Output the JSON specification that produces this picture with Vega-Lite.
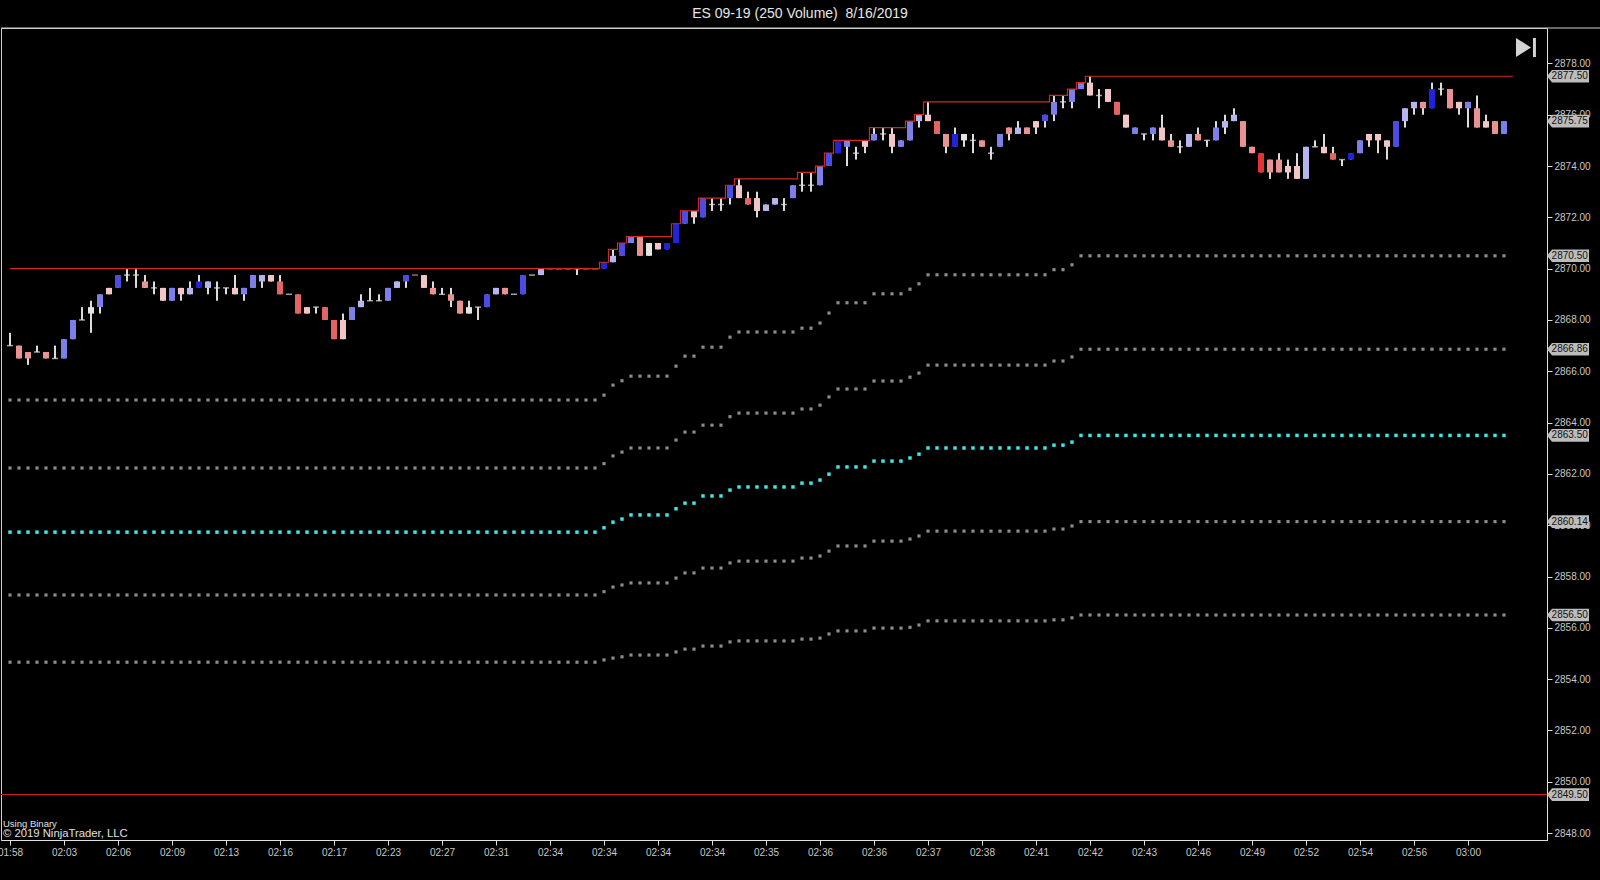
{
  "$schema": "https://vega.github.io/schema/vega-lite/v6.json",
  "width": 1546,
  "height": 812,
  "autosize": {"type": "none"},
  "padding": {"left": 1, "top": 28, "right": 53, "bottom": 40},
  "background": "#000000",
  "title": {
    "text": "ES 09-19 (250 Volume) \u00a08/16/2019",
    "color": "#e6e6e6",
    "fontSize": 14,
    "fontWeight": "normal",
    "font": "Liberation Sans",
    "frame": "bounds",
    "anchor": "middle",
    "offset": 7
  },
  "config": {
    "font": "Liberation Sans",
    "view": {"stroke": "#cfcfcf", "strokeWidth": 1}
  },
  "data": {
    "values": [
      {"i":0,"open":2867,"high":2867.5,"low":2867,"close":2867,"tone":"W","lvl":2870,"mid":2859.73,"up2":2864.88,"up1":2862.23,"dn1":2857.28,"dn2":2854.66},
      {"i":1,"open":2867,"high":2867,"low":2866.5,"close":2866.5,"tone":"R1","lvl":2870,"mid":2859.73,"up2":2864.88,"up1":2862.23,"dn1":2857.28,"dn2":2854.66},
      {"i":2,"open":2866.75,"high":2866.75,"low":2866.25,"close":2866.5,"tone":"R1","lvl":2870,"mid":2859.73,"up2":2864.88,"up1":2862.23,"dn1":2857.28,"dn2":2854.66},
      {"i":3,"open":2866.75,"high":2867,"low":2866.75,"close":2866.75,"tone":"W","lvl":2870,"mid":2859.73,"up2":2864.88,"up1":2862.23,"dn1":2857.28,"dn2":2854.66},
      {"i":4,"open":2866.75,"high":2866.75,"low":2866.5,"close":2866.5,"tone":"R1","lvl":2870,"mid":2859.73,"up2":2864.88,"up1":2862.23,"dn1":2857.28,"dn2":2854.66},
      {"i":5,"open":2866.5,"high":2867,"low":2866.5,"close":2866.5,"tone":"W","lvl":2870,"mid":2859.73,"up2":2864.88,"up1":2862.23,"dn1":2857.28,"dn2":2854.66},
      {"i":6,"open":2866.5,"high":2867.25,"low":2866.5,"close":2867.25,"tone":"B1","lvl":2870,"mid":2859.73,"up2":2864.88,"up1":2862.23,"dn1":2857.28,"dn2":2854.66},
      {"i":7,"open":2867.25,"high":2868,"low":2867.25,"close":2868,"tone":"B1","lvl":2870,"mid":2859.73,"up2":2864.88,"up1":2862.23,"dn1":2857.28,"dn2":2854.66},
      {"i":8,"open":2868,"high":2868.5,"low":2868,"close":2868,"tone":"W","lvl":2870,"mid":2859.73,"up2":2864.88,"up1":2862.23,"dn1":2857.28,"dn2":2854.66},
      {"i":9,"open":2868.25,"high":2868.75,"low":2867.5,"close":2868.5,"tone":"W","lvl":2870,"mid":2859.73,"up2":2864.88,"up1":2862.23,"dn1":2857.28,"dn2":2854.66},
      {"i":10,"open":2868.5,"high":2869,"low":2868.25,"close":2869,"tone":"B1","lvl":2870,"mid":2859.73,"up2":2864.88,"up1":2862.23,"dn1":2857.28,"dn2":2854.66},
      {"i":11,"open":2869.25,"high":2869.25,"low":2869,"close":2869,"tone":"R0","lvl":2870,"mid":2859.73,"up2":2864.88,"up1":2862.23,"dn1":2857.28,"dn2":2854.66},
      {"i":12,"open":2869.25,"high":2869.75,"low":2869.25,"close":2869.75,"tone":"B2","lvl":2870,"mid":2859.73,"up2":2864.88,"up1":2862.23,"dn1":2857.28,"dn2":2854.66},
      {"i":13,"open":2869.75,"high":2870,"low":2869.5,"close":2869.75,"tone":"W","lvl":2870,"mid":2859.73,"up2":2864.88,"up1":2862.23,"dn1":2857.28,"dn2":2854.66},
      {"i":14,"open":2869.75,"high":2870,"low":2869.25,"close":2869.75,"tone":"W","lvl":2870,"mid":2859.73,"up2":2864.88,"up1":2862.23,"dn1":2857.28,"dn2":2854.66},
      {"i":15,"open":2869.5,"high":2869.75,"low":2869.25,"close":2869.25,"tone":"R1","lvl":2870,"mid":2859.73,"up2":2864.88,"up1":2862.23,"dn1":2857.28,"dn2":2854.66},
      {"i":16,"open":2869.25,"high":2869.5,"low":2869,"close":2869.25,"tone":"W","lvl":2870,"mid":2859.73,"up2":2864.88,"up1":2862.23,"dn1":2857.28,"dn2":2854.66},
      {"i":17,"open":2869.25,"high":2869.25,"low":2868.75,"close":2868.75,"tone":"R0","lvl":2870,"mid":2859.73,"up2":2864.88,"up1":2862.23,"dn1":2857.28,"dn2":2854.66},
      {"i":18,"open":2868.75,"high":2869.25,"low":2868.75,"close":2869.25,"tone":"B1","lvl":2870,"mid":2859.73,"up2":2864.88,"up1":2862.23,"dn1":2857.28,"dn2":2854.66},
      {"i":19,"open":2869.25,"high":2869.25,"low":2868.75,"close":2869,"tone":"R0","lvl":2870,"mid":2859.73,"up2":2864.88,"up1":2862.23,"dn1":2857.28,"dn2":2854.66},
      {"i":20,"open":2869,"high":2869.5,"low":2869,"close":2869.25,"tone":"B0","lvl":2870,"mid":2859.73,"up2":2864.88,"up1":2862.23,"dn1":2857.28,"dn2":2854.66},
      {"i":21,"open":2869.25,"high":2869.75,"low":2869.25,"close":2869.5,"tone":"B3","lvl":2870,"mid":2859.73,"up2":2864.88,"up1":2862.23,"dn1":2857.28,"dn2":2854.66},
      {"i":22,"open":2869.25,"high":2869.5,"low":2869,"close":2869.5,"tone":"B0","lvl":2870,"mid":2859.73,"up2":2864.88,"up1":2862.23,"dn1":2857.28,"dn2":2854.66},
      {"i":23,"open":2869.25,"high":2869.5,"low":2868.75,"close":2869.25,"tone":"W","lvl":2870,"mid":2859.73,"up2":2864.88,"up1":2862.23,"dn1":2857.28,"dn2":2854.66},
      {"i":24,"open":2869.25,"high":2869.25,"low":2869,"close":2869.25,"tone":"W","lvl":2870,"mid":2859.73,"up2":2864.88,"up1":2862.23,"dn1":2857.28,"dn2":2854.66},
      {"i":25,"open":2869.25,"high":2869.75,"low":2869,"close":2869,"tone":"R0","lvl":2870,"mid":2859.73,"up2":2864.88,"up1":2862.23,"dn1":2857.28,"dn2":2854.66},
      {"i":26,"open":2869,"high":2869.25,"low":2868.75,"close":2869.25,"tone":"B1","lvl":2870,"mid":2859.73,"up2":2864.88,"up1":2862.23,"dn1":2857.28,"dn2":2854.66},
      {"i":27,"open":2869.25,"high":2869.75,"low":2869.25,"close":2869.75,"tone":"B1","lvl":2870,"mid":2859.73,"up2":2864.88,"up1":2862.23,"dn1":2857.28,"dn2":2854.66},
      {"i":28,"open":2869.5,"high":2869.75,"low":2869.25,"close":2869.75,"tone":"B0","lvl":2870,"mid":2859.73,"up2":2864.88,"up1":2862.23,"dn1":2857.28,"dn2":2854.66},
      {"i":29,"open":2869.75,"high":2869.75,"low":2869.5,"close":2869.5,"tone":"R0","lvl":2870,"mid":2859.73,"up2":2864.88,"up1":2862.23,"dn1":2857.28,"dn2":2854.66},
      {"i":30,"open":2869.5,"high":2869.75,"low":2869,"close":2869,"tone":"R2","lvl":2870,"mid":2859.73,"up2":2864.88,"up1":2862.23,"dn1":2857.28,"dn2":2854.66},
      {"i":31,"open":2869,"high":2869,"low":2869,"close":2869,"tone":"W","lvl":2870,"mid":2859.73,"up2":2864.88,"up1":2862.23,"dn1":2857.28,"dn2":2854.66},
      {"i":32,"open":2869,"high":2869,"low":2868.25,"close":2868.25,"tone":"R2","lvl":2870,"mid":2859.73,"up2":2864.88,"up1":2862.23,"dn1":2857.28,"dn2":2854.66},
      {"i":33,"open":2868.5,"high":2868.5,"low":2868.25,"close":2868.25,"tone":"R0","lvl":2870,"mid":2859.73,"up2":2864.88,"up1":2862.23,"dn1":2857.28,"dn2":2854.66},
      {"i":34,"open":2868.5,"high":2868.5,"low":2868.25,"close":2868.5,"tone":"W","lvl":2870,"mid":2859.73,"up2":2864.88,"up1":2862.23,"dn1":2857.28,"dn2":2854.66},
      {"i":35,"open":2868.5,"high":2868.5,"low":2868,"close":2868,"tone":"R2","lvl":2870,"mid":2859.73,"up2":2864.88,"up1":2862.23,"dn1":2857.28,"dn2":2854.66},
      {"i":36,"open":2868,"high":2868,"low":2867.25,"close":2867.25,"tone":"R2","lvl":2870,"mid":2859.73,"up2":2864.88,"up1":2862.23,"dn1":2857.28,"dn2":2854.66},
      {"i":37,"open":2868,"high":2868.25,"low":2867.25,"close":2867.25,"tone":"R0","lvl":2870,"mid":2859.73,"up2":2864.88,"up1":2862.23,"dn1":2857.28,"dn2":2854.66},
      {"i":38,"open":2868,"high":2868.5,"low":2868,"close":2868.5,"tone":"B1","lvl":2870,"mid":2859.73,"up2":2864.88,"up1":2862.23,"dn1":2857.28,"dn2":2854.66},
      {"i":39,"open":2868.5,"high":2869,"low":2868.5,"close":2868.75,"tone":"B0","lvl":2870,"mid":2859.73,"up2":2864.88,"up1":2862.23,"dn1":2857.28,"dn2":2854.66},
      {"i":40,"open":2868.75,"high":2869.25,"low":2868.75,"close":2868.75,"tone":"W","lvl":2870,"mid":2859.73,"up2":2864.88,"up1":2862.23,"dn1":2857.28,"dn2":2854.66},
      {"i":41,"open":2868.75,"high":2869,"low":2868.75,"close":2868.75,"tone":"W","lvl":2870,"mid":2859.73,"up2":2864.88,"up1":2862.23,"dn1":2857.28,"dn2":2854.66},
      {"i":42,"open":2868.75,"high":2869.25,"low":2868.75,"close":2869.25,"tone":"B1","lvl":2870,"mid":2859.73,"up2":2864.88,"up1":2862.23,"dn1":2857.28,"dn2":2854.66},
      {"i":43,"open":2869.25,"high":2869.5,"low":2869.25,"close":2869.5,"tone":"B0","lvl":2870,"mid":2859.73,"up2":2864.88,"up1":2862.23,"dn1":2857.28,"dn2":2854.66},
      {"i":44,"open":2869.5,"high":2869.75,"low":2869.25,"close":2869.75,"tone":"B2","lvl":2870,"mid":2859.73,"up2":2864.88,"up1":2862.23,"dn1":2857.28,"dn2":2854.66},
      {"i":45,"open":2869.75,"high":2869.75,"low":2869.75,"close":2869.75,"tone":"R1","lvl":2870,"mid":2859.73,"up2":2864.88,"up1":2862.23,"dn1":2857.28,"dn2":2854.66},
      {"i":46,"open":2869.75,"high":2869.75,"low":2869.25,"close":2869.25,"tone":"R0","lvl":2870,"mid":2859.73,"up2":2864.88,"up1":2862.23,"dn1":2857.28,"dn2":2854.66},
      {"i":47,"open":2869.25,"high":2869.5,"low":2869,"close":2869,"tone":"R1","lvl":2870,"mid":2859.73,"up2":2864.88,"up1":2862.23,"dn1":2857.28,"dn2":2854.66},
      {"i":48,"open":2869,"high":2869.25,"low":2869,"close":2869,"tone":"W","lvl":2870,"mid":2859.73,"up2":2864.88,"up1":2862.23,"dn1":2857.28,"dn2":2854.66},
      {"i":49,"open":2869,"high":2869.25,"low":2868.5,"close":2868.75,"tone":"R1","lvl":2870,"mid":2859.73,"up2":2864.88,"up1":2862.23,"dn1":2857.28,"dn2":2854.66},
      {"i":50,"open":2868.75,"high":2868.75,"low":2868.25,"close":2868.25,"tone":"R1","lvl":2870,"mid":2859.73,"up2":2864.88,"up1":2862.23,"dn1":2857.28,"dn2":2854.66},
      {"i":51,"open":2868.25,"high":2868.75,"low":2868.25,"close":2868.5,"tone":"W","lvl":2870,"mid":2859.73,"up2":2864.88,"up1":2862.23,"dn1":2857.28,"dn2":2854.66},
      {"i":52,"open":2868.5,"high":2868.5,"low":2868,"close":2868.5,"tone":"W","lvl":2870,"mid":2859.73,"up2":2864.88,"up1":2862.23,"dn1":2857.28,"dn2":2854.66},
      {"i":53,"open":2868.5,"high":2869,"low":2868.5,"close":2869,"tone":"B2","lvl":2870,"mid":2859.73,"up2":2864.88,"up1":2862.23,"dn1":2857.28,"dn2":2854.66},
      {"i":54,"open":2869,"high":2869.25,"low":2869,"close":2869.25,"tone":"B0","lvl":2870,"mid":2859.73,"up2":2864.88,"up1":2862.23,"dn1":2857.28,"dn2":2854.66},
      {"i":55,"open":2869.25,"high":2869.25,"low":2869,"close":2869,"tone":"R1","lvl":2870,"mid":2859.73,"up2":2864.88,"up1":2862.23,"dn1":2857.28,"dn2":2854.66},
      {"i":56,"open":2869,"high":2869,"low":2869,"close":2869,"tone":"W","lvl":2870,"mid":2859.73,"up2":2864.88,"up1":2862.23,"dn1":2857.28,"dn2":2854.66},
      {"i":57,"open":2869,"high":2869.75,"low":2869,"close":2869.75,"tone":"B2","lvl":2870,"mid":2859.73,"up2":2864.88,"up1":2862.23,"dn1":2857.28,"dn2":2854.66},
      {"i":58,"open":2869.75,"high":2869.75,"low":2869.75,"close":2869.75,"tone":"W","lvl":2870,"mid":2859.73,"up2":2864.88,"up1":2862.23,"dn1":2857.28,"dn2":2854.66},
      {"i":59,"open":2869.75,"high":2870,"low":2869.75,"close":2870,"tone":"B0","lvl":2870,"mid":2859.73,"up2":2864.88,"up1":2862.23,"dn1":2857.28,"dn2":2854.66},
      {"i":60,"open":2870,"high":2870,"low":2870,"close":2870,"tone":"W","lvl":2870,"mid":2859.73,"up2":2864.88,"up1":2862.23,"dn1":2857.28,"dn2":2854.66},
      {"i":61,"open":2870,"high":2870,"low":2870,"close":2870,"tone":"W","lvl":2870,"mid":2859.73,"up2":2864.88,"up1":2862.23,"dn1":2857.28,"dn2":2854.66},
      {"i":62,"open":2870,"high":2870,"low":2870,"close":2870,"tone":"W","lvl":2870,"mid":2859.73,"up2":2864.88,"up1":2862.23,"dn1":2857.28,"dn2":2854.66},
      {"i":63,"open":2870,"high":2870,"low":2869.75,"close":2870,"tone":"W","lvl":2870,"mid":2859.73,"up2":2864.88,"up1":2862.23,"dn1":2857.28,"dn2":2854.66},
      {"i":64,"open":2870,"high":2870,"low":2870,"close":2870,"tone":"W","lvl":2870,"mid":2859.73,"up2":2864.88,"up1":2862.23,"dn1":2857.28,"dn2":2854.66},
      {"i":65,"open":2870,"high":2870,"low":2870,"close":2870,"tone":"W","lvl":2870,"mid":2859.73,"up2":2864.88,"up1":2862.23,"dn1":2857.28,"dn2":2854.66},
      {"i":66,"open":2870,"high":2870.25,"low":2870,"close":2870.25,"tone":"B3","lvl":2870.25,"mid":2859.9,"up2":2865.07,"up1":2862.4,"dn1":2857.41,"dn2":2854.75},
      {"i":67,"open":2870.25,"high":2870.75,"low":2870.25,"close":2870.5,"tone":"B0","lvl":2870.75,"mid":2860.12,"up2":2865.46,"up1":2862.7,"dn1":2857.59,"dn2":2854.82},
      {"i":68,"open":2870.5,"high":2871,"low":2870.5,"close":2871,"tone":"B2","lvl":2871,"mid":2860.24,"up2":2865.63,"up1":2862.85,"dn1":2857.67,"dn2":2854.87},
      {"i":69,"open":2871,"high":2871.25,"low":2871,"close":2871.25,"tone":"B1","lvl":2871.25,"mid":2860.4,"up2":2865.81,"up1":2863.01,"dn1":2857.75,"dn2":2854.94},
      {"i":70,"open":2871.25,"high":2871.25,"low":2870.5,"close":2870.5,"tone":"R1","lvl":2871.25,"mid":2860.4,"up2":2865.81,"up1":2863.01,"dn1":2857.75,"dn2":2854.94},
      {"i":71,"open":2870.5,"high":2871,"low":2870.5,"close":2871,"tone":"W","lvl":2871.25,"mid":2860.4,"up2":2865.81,"up1":2863.01,"dn1":2857.75,"dn2":2854.94},
      {"i":72,"open":2871,"high":2871,"low":2870.75,"close":2870.75,"tone":"R0","lvl":2871.25,"mid":2860.4,"up2":2865.81,"up1":2863.01,"dn1":2857.75,"dn2":2854.94},
      {"i":73,"open":2870.75,"high":2871,"low":2870.75,"close":2871,"tone":"B3","lvl":2871.25,"mid":2860.4,"up2":2865.81,"up1":2863.01,"dn1":2857.75,"dn2":2854.94},
      {"i":74,"open":2871,"high":2871.75,"low":2871,"close":2871.75,"tone":"B3","lvl":2871.75,"mid":2860.64,"up2":2866.2,"up1":2863.32,"dn1":2857.94,"dn2":2855.06},
      {"i":75,"open":2871.75,"high":2872.25,"low":2871.75,"close":2872.25,"tone":"B2","lvl":2872.25,"mid":2860.86,"up2":2866.59,"up1":2863.63,"dn1":2858.14,"dn2":2855.17},
      {"i":76,"open":2872.25,"high":2872.25,"low":2871.75,"close":2872,"tone":"R0","lvl":2872.25,"mid":2860.86,"up2":2866.59,"up1":2863.63,"dn1":2858.14,"dn2":2855.17},
      {"i":77,"open":2872,"high":2872.75,"low":2872,"close":2872.75,"tone":"B2","lvl":2872.75,"mid":2861.14,"up2":2866.94,"up1":2863.9,"dn1":2858.33,"dn2":2855.29},
      {"i":78,"open":2872.5,"high":2872.75,"low":2872.25,"close":2872.5,"tone":"W","lvl":2872.75,"mid":2861.14,"up2":2866.94,"up1":2863.9,"dn1":2858.33,"dn2":2855.29},
      {"i":79,"open":2872.5,"high":2872.75,"low":2872.25,"close":2872.5,"tone":"W","lvl":2872.75,"mid":2861.14,"up2":2866.94,"up1":2863.9,"dn1":2858.33,"dn2":2855.29},
      {"i":80,"open":2872.75,"high":2873.25,"low":2872.5,"close":2873.25,"tone":"B2","lvl":2873.25,"mid":2861.37,"up2":2867.33,"up1":2864.23,"dn1":2858.53,"dn2":2855.45},
      {"i":81,"open":2873.25,"high":2873.5,"low":2872.75,"close":2872.75,"tone":"R0","lvl":2873.5,"mid":2861.49,"up2":2867.53,"up1":2864.37,"dn1":2858.6,"dn2":2855.49},
      {"i":82,"open":2872.75,"high":2873,"low":2872.5,"close":2872.5,"tone":"R2","lvl":2873.5,"mid":2861.49,"up2":2867.53,"up1":2864.37,"dn1":2858.6,"dn2":2855.49},
      {"i":83,"open":2872.75,"high":2873,"low":2872,"close":2872.25,"tone":"R0","lvl":2873.5,"mid":2861.49,"up2":2867.53,"up1":2864.37,"dn1":2858.6,"dn2":2855.49},
      {"i":84,"open":2872.25,"high":2872.5,"low":2872.25,"close":2872.5,"tone":"B0","lvl":2873.5,"mid":2861.49,"up2":2867.53,"up1":2864.37,"dn1":2858.6,"dn2":2855.49},
      {"i":85,"open":2872.5,"high":2872.75,"low":2872.5,"close":2872.75,"tone":"B0","lvl":2873.5,"mid":2861.49,"up2":2867.53,"up1":2864.37,"dn1":2858.6,"dn2":2855.49},
      {"i":86,"open":2872.5,"high":2872.75,"low":2872.25,"close":2872.5,"tone":"W","lvl":2873.5,"mid":2861.49,"up2":2867.53,"up1":2864.37,"dn1":2858.6,"dn2":2855.49},
      {"i":87,"open":2872.75,"high":2873.25,"low":2872.75,"close":2873.25,"tone":"B1","lvl":2873.5,"mid":2861.49,"up2":2867.53,"up1":2864.37,"dn1":2858.6,"dn2":2855.49},
      {"i":88,"open":2873.25,"high":2873.75,"low":2873,"close":2873.25,"tone":"W","lvl":2873.75,"mid":2861.64,"up2":2867.68,"up1":2864.53,"dn1":2858.72,"dn2":2855.56},
      {"i":89,"open":2873.25,"high":2873.75,"low":2873,"close":2873.25,"tone":"W","lvl":2873.75,"mid":2861.64,"up2":2867.68,"up1":2864.53,"dn1":2858.72,"dn2":2855.56},
      {"i":90,"open":2873.25,"high":2874,"low":2873.25,"close":2874,"tone":"B1","lvl":2874,"mid":2861.76,"up2":2867.88,"up1":2864.68,"dn1":2858.8,"dn2":2855.6},
      {"i":91,"open":2874,"high":2874.5,"low":2874,"close":2874.5,"tone":"B2","lvl":2874.5,"mid":2861.99,"up2":2868.27,"up1":2865,"dn1":2858.99,"dn2":2855.76},
      {"i":92,"open":2874.5,"high":2875,"low":2874.5,"close":2875,"tone":"B3","lvl":2875,"mid":2862.27,"up2":2868.67,"up1":2865.31,"dn1":2859.19,"dn2":2855.88},
      {"i":93,"open":2874.75,"high":2875,"low":2874,"close":2875,"tone":"B1","lvl":2875,"mid":2862.27,"up2":2868.67,"up1":2865.31,"dn1":2859.19,"dn2":2855.88},
      {"i":94,"open":2874.5,"high":2874.75,"low":2874.25,"close":2874.5,"tone":"W","lvl":2875,"mid":2862.27,"up2":2868.67,"up1":2865.31,"dn1":2859.19,"dn2":2855.88},
      {"i":95,"open":2875,"high":2875,"low":2874.5,"close":2874.75,"tone":"R0","lvl":2875,"mid":2862.27,"up2":2868.67,"up1":2865.31,"dn1":2859.19,"dn2":2855.88},
      {"i":96,"open":2875,"high":2875.5,"low":2875,"close":2875.25,"tone":"B1","lvl":2875.5,"mid":2862.5,"up2":2869.02,"up1":2865.62,"dn1":2859.38,"dn2":2855.99},
      {"i":97,"open":2875.25,"high":2875.5,"low":2875,"close":2875.25,"tone":"W","lvl":2875.5,"mid":2862.5,"up2":2869.02,"up1":2865.62,"dn1":2859.38,"dn2":2855.99},
      {"i":98,"open":2875.25,"high":2875.5,"low":2874.5,"close":2874.75,"tone":"R0","lvl":2875.5,"mid":2862.5,"up2":2869.02,"up1":2865.62,"dn1":2859.38,"dn2":2855.99},
      {"i":99,"open":2874.75,"high":2875,"low":2874.75,"close":2875,"tone":"B1","lvl":2875.5,"mid":2862.5,"up2":2869.02,"up1":2865.62,"dn1":2859.38,"dn2":2855.99},
      {"i":100,"open":2875,"high":2875.75,"low":2875,"close":2875.75,"tone":"B1","lvl":2875.75,"mid":2862.62,"up2":2869.2,"up1":2865.77,"dn1":2859.46,"dn2":2856.02},
      {"i":101,"open":2875.75,"high":2876,"low":2875.5,"close":2876,"tone":"B0","lvl":2876,"mid":2862.77,"up2":2869.41,"up1":2865.93,"dn1":2859.58,"dn2":2856.11},
      {"i":102,"open":2876,"high":2876.5,"low":2875.75,"close":2875.75,"tone":"R0","lvl":2876.5,"mid":2863.01,"up2":2869.76,"up1":2866.24,"dn1":2859.77,"dn2":2856.27},
      {"i":103,"open":2875.75,"high":2875.75,"low":2875.25,"close":2875.25,"tone":"R2","lvl":2876.5,"mid":2863.01,"up2":2869.76,"up1":2866.24,"dn1":2859.77,"dn2":2856.27},
      {"i":104,"open":2875.25,"high":2875.25,"low":2874.5,"close":2874.75,"tone":"R1","lvl":2876.5,"mid":2863.01,"up2":2869.76,"up1":2866.24,"dn1":2859.77,"dn2":2856.27},
      {"i":105,"open":2874.75,"high":2875.5,"low":2874.75,"close":2875.25,"tone":"B3","lvl":2876.5,"mid":2863.01,"up2":2869.76,"up1":2866.24,"dn1":2859.77,"dn2":2856.27},
      {"i":106,"open":2875,"high":2875.25,"low":2874.75,"close":2875.25,"tone":"W","lvl":2876.5,"mid":2863.01,"up2":2869.76,"up1":2866.24,"dn1":2859.77,"dn2":2856.27},
      {"i":107,"open":2875,"high":2875.25,"low":2874.5,"close":2875,"tone":"W","lvl":2876.5,"mid":2863.01,"up2":2869.76,"up1":2866.24,"dn1":2859.77,"dn2":2856.27},
      {"i":108,"open":2875,"high":2875,"low":2874.75,"close":2874.75,"tone":"R1","lvl":2876.5,"mid":2863.01,"up2":2869.76,"up1":2866.24,"dn1":2859.77,"dn2":2856.27},
      {"i":109,"open":2874.5,"high":2874.75,"low":2874.25,"close":2874.5,"tone":"W","lvl":2876.5,"mid":2863.01,"up2":2869.76,"up1":2866.24,"dn1":2859.77,"dn2":2856.27},
      {"i":110,"open":2874.75,"high":2875.25,"low":2874.75,"close":2875.25,"tone":"B1","lvl":2876.5,"mid":2863.01,"up2":2869.76,"up1":2866.24,"dn1":2859.77,"dn2":2856.27},
      {"i":111,"open":2875.5,"high":2875.5,"low":2875,"close":2875.25,"tone":"R1","lvl":2876.5,"mid":2863.01,"up2":2869.76,"up1":2866.24,"dn1":2859.77,"dn2":2856.27},
      {"i":112,"open":2875.25,"high":2875.75,"low":2875.25,"close":2875.5,"tone":"B0","lvl":2876.5,"mid":2863.01,"up2":2869.76,"up1":2866.24,"dn1":2859.77,"dn2":2856.27},
      {"i":113,"open":2875.5,"high":2875.5,"low":2875.25,"close":2875.25,"tone":"R1","lvl":2876.5,"mid":2863.01,"up2":2869.76,"up1":2866.24,"dn1":2859.77,"dn2":2856.27},
      {"i":114,"open":2875.75,"high":2875.75,"low":2875.25,"close":2875.5,"tone":"R0","lvl":2876.5,"mid":2863.01,"up2":2869.76,"up1":2866.24,"dn1":2859.77,"dn2":2856.27},
      {"i":115,"open":2875.75,"high":2876,"low":2875.5,"close":2876,"tone":"B2","lvl":2876.5,"mid":2863.01,"up2":2869.76,"up1":2866.24,"dn1":2859.77,"dn2":2856.27},
      {"i":116,"open":2876,"high":2876.75,"low":2875.75,"close":2876.5,"tone":"B1","lvl":2876.75,"mid":2863.12,"up2":2869.96,"up1":2866.4,"dn1":2859.85,"dn2":2856.31},
      {"i":117,"open":2876.5,"high":2876.75,"low":2876.25,"close":2876.5,"tone":"W","lvl":2876.75,"mid":2863.12,"up2":2869.96,"up1":2866.4,"dn1":2859.85,"dn2":2856.31},
      {"i":118,"open":2876.5,"high":2877,"low":2876.25,"close":2877,"tone":"B1","lvl":2877,"mid":2863.24,"up2":2870.15,"up1":2866.56,"dn1":2859.97,"dn2":2856.39},
      {"i":119,"open":2877,"high":2877.25,"low":2877,"close":2877.25,"tone":"B1","lvl":2877.25,"mid":2863.5,"up2":2870.5,"up1":2866.86,"dn1":2860.14,"dn2":2856.5},
      {"i":120,"open":2877.25,"high":2877.5,"low":2876.75,"close":2876.75,"tone":"R0","lvl":2877.5,"mid":2863.5,"up2":2870.5,"up1":2866.86,"dn1":2860.14,"dn2":2856.5},
      {"i":121,"open":2876.75,"high":2877,"low":2876.25,"close":2876.75,"tone":"W","lvl":2877.5,"mid":2863.5,"up2":2870.5,"up1":2866.86,"dn1":2860.14,"dn2":2856.5},
      {"i":122,"open":2877,"high":2877,"low":2876.5,"close":2876.5,"tone":"R0","lvl":2877.5,"mid":2863.5,"up2":2870.5,"up1":2866.86,"dn1":2860.14,"dn2":2856.5},
      {"i":123,"open":2876.5,"high":2876.5,"low":2876,"close":2876,"tone":"R2","lvl":2877.5,"mid":2863.5,"up2":2870.5,"up1":2866.86,"dn1":2860.14,"dn2":2856.5},
      {"i":124,"open":2876,"high":2876,"low":2875.5,"close":2875.5,"tone":"R0","lvl":2877.5,"mid":2863.5,"up2":2870.5,"up1":2866.86,"dn1":2860.14,"dn2":2856.5},
      {"i":125,"open":2875.25,"high":2875.5,"low":2875.25,"close":2875.5,"tone":"B1","lvl":2877.5,"mid":2863.5,"up2":2870.5,"up1":2866.86,"dn1":2860.14,"dn2":2856.5},
      {"i":126,"open":2875.25,"high":2875.25,"low":2875,"close":2875.25,"tone":"W","lvl":2877.5,"mid":2863.5,"up2":2870.5,"up1":2866.86,"dn1":2860.14,"dn2":2856.5},
      {"i":127,"open":2875.25,"high":2875.5,"low":2875,"close":2875.5,"tone":"B1","lvl":2877.5,"mid":2863.5,"up2":2870.5,"up1":2866.86,"dn1":2860.14,"dn2":2856.5},
      {"i":128,"open":2875.5,"high":2876,"low":2875,"close":2875,"tone":"R0","lvl":2877.5,"mid":2863.5,"up2":2870.5,"up1":2866.86,"dn1":2860.14,"dn2":2856.5},
      {"i":129,"open":2875,"high":2875.25,"low":2874.75,"close":2874.75,"tone":"R1","lvl":2877.5,"mid":2863.5,"up2":2870.5,"up1":2866.86,"dn1":2860.14,"dn2":2856.5},
      {"i":130,"open":2874.75,"high":2875,"low":2874.5,"close":2874.75,"tone":"W","lvl":2877.5,"mid":2863.5,"up2":2870.5,"up1":2866.86,"dn1":2860.14,"dn2":2856.5},
      {"i":131,"open":2874.75,"high":2875.25,"low":2874.75,"close":2875.25,"tone":"B0","lvl":2877.5,"mid":2863.5,"up2":2870.5,"up1":2866.86,"dn1":2860.14,"dn2":2856.5},
      {"i":132,"open":2875.25,"high":2875.5,"low":2875,"close":2875,"tone":"R1","lvl":2877.5,"mid":2863.5,"up2":2870.5,"up1":2866.86,"dn1":2860.14,"dn2":2856.5},
      {"i":133,"open":2875,"high":2875,"low":2874.75,"close":2875,"tone":"W","lvl":2877.5,"mid":2863.5,"up2":2870.5,"up1":2866.86,"dn1":2860.14,"dn2":2856.5},
      {"i":134,"open":2875,"high":2875.75,"low":2875,"close":2875.5,"tone":"B1","lvl":2877.5,"mid":2863.5,"up2":2870.5,"up1":2866.86,"dn1":2860.14,"dn2":2856.5},
      {"i":135,"open":2875.5,"high":2876,"low":2875.25,"close":2875.75,"tone":"B0","lvl":2877.5,"mid":2863.5,"up2":2870.5,"up1":2866.86,"dn1":2860.14,"dn2":2856.5},
      {"i":136,"open":2875.75,"high":2876.25,"low":2875.75,"close":2876,"tone":"B0","lvl":2877.5,"mid":2863.5,"up2":2870.5,"up1":2866.86,"dn1":2860.14,"dn2":2856.5},
      {"i":137,"open":2875.75,"high":2875.75,"low":2874.75,"close":2874.75,"tone":"R1","lvl":2877.5,"mid":2863.5,"up2":2870.5,"up1":2866.86,"dn1":2860.14,"dn2":2856.5},
      {"i":138,"open":2874.75,"high":2874.75,"low":2874.5,"close":2874.5,"tone":"R1","lvl":2877.5,"mid":2863.5,"up2":2870.5,"up1":2866.86,"dn1":2860.14,"dn2":2856.5},
      {"i":139,"open":2874.5,"high":2874.5,"low":2873.75,"close":2873.75,"tone":"R3","lvl":2877.5,"mid":2863.5,"up2":2870.5,"up1":2866.86,"dn1":2860.14,"dn2":2856.5},
      {"i":140,"open":2874.25,"high":2874.25,"low":2873.5,"close":2873.75,"tone":"R1","lvl":2877.5,"mid":2863.5,"up2":2870.5,"up1":2866.86,"dn1":2860.14,"dn2":2856.5},
      {"i":141,"open":2874.25,"high":2874.5,"low":2873.75,"close":2873.75,"tone":"R1","lvl":2877.5,"mid":2863.5,"up2":2870.5,"up1":2866.86,"dn1":2860.14,"dn2":2856.5},
      {"i":142,"open":2874,"high":2874.25,"low":2873.5,"close":2873.75,"tone":"R0","lvl":2877.5,"mid":2863.5,"up2":2870.5,"up1":2866.86,"dn1":2860.14,"dn2":2856.5},
      {"i":143,"open":2874,"high":2874.5,"low":2873.5,"close":2873.5,"tone":"R0","lvl":2877.5,"mid":2863.5,"up2":2870.5,"up1":2866.86,"dn1":2860.14,"dn2":2856.5},
      {"i":144,"open":2873.5,"high":2874.75,"low":2873.5,"close":2874.75,"tone":"B0","lvl":2877.5,"mid":2863.5,"up2":2870.5,"up1":2866.86,"dn1":2860.14,"dn2":2856.5},
      {"i":145,"open":2874.75,"high":2875,"low":2874.75,"close":2874.75,"tone":"W","lvl":2877.5,"mid":2863.5,"up2":2870.5,"up1":2866.86,"dn1":2860.14,"dn2":2856.5},
      {"i":146,"open":2874.75,"high":2875.25,"low":2874.5,"close":2874.5,"tone":"R0","lvl":2877.5,"mid":2863.5,"up2":2870.5,"up1":2866.86,"dn1":2860.14,"dn2":2856.5},
      {"i":147,"open":2874.5,"high":2874.75,"low":2874.25,"close":2874.25,"tone":"R2","lvl":2877.5,"mid":2863.5,"up2":2870.5,"up1":2866.86,"dn1":2860.14,"dn2":2856.5},
      {"i":148,"open":2874.25,"high":2874.25,"low":2874,"close":2874.25,"tone":"W","lvl":2877.5,"mid":2863.5,"up2":2870.5,"up1":2866.86,"dn1":2860.14,"dn2":2856.5},
      {"i":149,"open":2874.25,"high":2874.5,"low":2874.25,"close":2874.5,"tone":"B3","lvl":2877.5,"mid":2863.5,"up2":2870.5,"up1":2866.86,"dn1":2860.14,"dn2":2856.5},
      {"i":150,"open":2874.5,"high":2875,"low":2874.5,"close":2875,"tone":"B1","lvl":2877.5,"mid":2863.5,"up2":2870.5,"up1":2866.86,"dn1":2860.14,"dn2":2856.5},
      {"i":151,"open":2875.25,"high":2875.25,"low":2874.75,"close":2875,"tone":"R0","lvl":2877.5,"mid":2863.5,"up2":2870.5,"up1":2866.86,"dn1":2860.14,"dn2":2856.5},
      {"i":152,"open":2875.25,"high":2875.25,"low":2874.5,"close":2875,"tone":"R0","lvl":2877.5,"mid":2863.5,"up2":2870.5,"up1":2866.86,"dn1":2860.14,"dn2":2856.5},
      {"i":153,"open":2875,"high":2875,"low":2874.25,"close":2874.75,"tone":"R0","lvl":2877.5,"mid":2863.5,"up2":2870.5,"up1":2866.86,"dn1":2860.14,"dn2":2856.5},
      {"i":154,"open":2874.75,"high":2875.75,"low":2874.75,"close":2875.75,"tone":"B2","lvl":2877.5,"mid":2863.5,"up2":2870.5,"up1":2866.86,"dn1":2860.14,"dn2":2856.5},
      {"i":155,"open":2875.75,"high":2876.25,"low":2875.5,"close":2876.25,"tone":"B0","lvl":2877.5,"mid":2863.5,"up2":2870.5,"up1":2866.86,"dn1":2860.14,"dn2":2856.5},
      {"i":156,"open":2876.25,"high":2876.5,"low":2876,"close":2876.5,"tone":"B0","lvl":2877.5,"mid":2863.5,"up2":2870.5,"up1":2866.86,"dn1":2860.14,"dn2":2856.5},
      {"i":157,"open":2876.5,"high":2876.5,"low":2876,"close":2876.25,"tone":"R1","lvl":2877.5,"mid":2863.5,"up2":2870.5,"up1":2866.86,"dn1":2860.14,"dn2":2856.5},
      {"i":158,"open":2876.25,"high":2877.25,"low":2876.25,"close":2877,"tone":"B3","lvl":2877.5,"mid":2863.5,"up2":2870.5,"up1":2866.86,"dn1":2860.14,"dn2":2856.5},
      {"i":159,"open":2877,"high":2877.25,"low":2876.75,"close":2877,"tone":"W","lvl":2877.5,"mid":2863.5,"up2":2870.5,"up1":2866.86,"dn1":2860.14,"dn2":2856.5},
      {"i":160,"open":2877,"high":2877,"low":2876.25,"close":2876.25,"tone":"R1","lvl":2877.5,"mid":2863.5,"up2":2870.5,"up1":2866.86,"dn1":2860.14,"dn2":2856.5},
      {"i":161,"open":2876.5,"high":2876.5,"low":2876,"close":2876.25,"tone":"R0","lvl":2877.5,"mid":2863.5,"up2":2870.5,"up1":2866.86,"dn1":2860.14,"dn2":2856.5},
      {"i":162,"open":2876.25,"high":2876.5,"low":2875.5,"close":2876.5,"tone":"B1","lvl":2877.5,"mid":2863.5,"up2":2870.5,"up1":2866.86,"dn1":2860.14,"dn2":2856.5},
      {"i":163,"open":2876.25,"high":2876.75,"low":2875.5,"close":2875.5,"tone":"R1","lvl":2877.5,"mid":2863.5,"up2":2870.5,"up1":2866.86,"dn1":2860.14,"dn2":2856.5},
      {"i":164,"open":2875.75,"high":2876,"low":2875.5,"close":2875.5,"tone":"R0","lvl":2877.5,"mid":2863.5,"up2":2870.5,"up1":2866.86,"dn1":2860.14,"dn2":2856.5},
      {"i":165,"open":2875.75,"high":2875.75,"low":2875.25,"close":2875.25,"tone":"R1","lvl":2877.5,"mid":2863.5,"up2":2870.5,"up1":2866.86,"dn1":2860.14,"dn2":2856.5},
      {"i":166,"open":2875.25,"high":2875.75,"low":2875.25,"close":2875.75,"tone":"B1","lvl":2877.5,"mid":2863.5,"up2":2870.5,"up1":2866.86,"dn1":2860.14,"dn2":2856.5},
      {"i":167,"lvl":2877.5}
    ]
  },
  "layer": [
    {
      "data": {"values": [{"p": 2849.5}]},
      "mark": {"type": "rule", "color": "#c42020", "strokeWidth": 1.2},
      "encoding": {
        "y": {"field": "p", "type": "quantitative", "title": null}
      }
    },
    {
      "data": {"values": [{"edge": "top"}]},
      "mark": {"type": "rule", "color": "#cfcfcf", "strokeWidth": 1},
      "encoding": {
        "x": {"datum": -1, "type": "quantitative"},
        "x2": {"datum": 176.9},
        "y": {"datum": 2879.38, "type": "quantitative"}
      }
    },
    {
      "transform": [{"fold": ["up2", "up1", "dn1", "dn2"], "as": ["band", "val"]}],
      "mark": {"type": "point", "shape": "square", "filled": true, "size": 10, "color": "#8c8c8c", "opacity": 1, "strokeWidth": 0},
      "encoding": {
        "x": {"field": "i", "type": "quantitative", "title": null},
        "y": {"field": "val", "type": "quantitative", "title": null}
      }
    },
    {
      "mark": {"type": "point", "shape": "square", "filled": true, "size": 12, "color": "#3ee6e6", "opacity": 1, "strokeWidth": 0},
      "encoding": {
        "x": {"field": "i", "type": "quantitative", "title": null},
        "y": {"field": "mid", "type": "quantitative", "title": null}
      }
    },
    {
      "mark": {"type": "rule", "color": "#dcdcdc", "strokeWidth": 2},
      "encoding": {
        "x": {
          "field": "i",
          "type": "quantitative",
          "title": null,
          "scale": {"domain": [-1, 170.78], "nice": false, "zero": false, "padding": 0},
          "axis": {
            "values": [0, 6, 12, 18, 24, 30, 36, 42, 48, 54, 60, 66, 72, 78, 84, 90, 96, 102, 108, 114, 120, 126, 132, 138, 144, 150, 156, 162],
            "labelExpr": "['01:58','02:03','02:06','02:09','02:13','02:16','02:17','02:23','02:27','02:31','02:34','02:34','02:34','02:34','02:35','02:36','02:36','02:37','02:38','02:41','02:42','02:43','02:46','02:49','02:52','02:54','02:56','03:00'][round(datum.value / 6)]",
            "labelColor": "#c8c8c8",
            "labelFontSize": 10,
            "labelFont": "Liberation Sans",
            "labelPadding": 2,
            "labelOverlap": false,
            "labelBound": false,
            "labelFlush": false,
            "tickColor": "#e0e0e0",
            "tickSize": 5,
            "domainColor": "#e0e0e0",
            "grid": false
          }
        },
        "y": {
          "field": "low",
          "type": "quantitative",
          "title": null,
          "scale": {"domain": [2847.73, 2879.38], "nice": false, "zero": false},
          "axis": {
            "orient": "right",
            "values": [2848, 2850, 2852, 2854, 2856, 2858, 2860, 2862, 2864, 2866, 2868, 2870, 2872, 2874, 2876, 2878],
            "format": ".2f",
            "labelColor": "#c8c8c8",
            "labelFontSize": 10,
            "labelFont": "Liberation Sans",
            "labelPadding": 2,
            "tickColor": "#e0e0e0",
            "tickSize": 5,
            "domainColor": "#e0e0e0",
            "grid": false
          }
        },
        "y2": {"field": "high"}
      }
    },
    {
      "mark": {"type": "bar", "size": 6},
      "encoding": {
        "x": {"field": "i", "type": "quantitative", "title": null, "scale": {"domain": [-1, 170.78], "nice": false, "zero": false, "padding": 0}},
        "y": {"field": "open", "type": "quantitative", "title": null},
        "y2": {"field": "close"},
        "color": {
          "field": "tone",
          "type": "nominal",
          "scale": {
            "domain": ["B3", "B2", "B1", "B0", "W", "R0", "R1", "R2", "R3"],
            "range": ["#2222d8", "#4c4ce2", "#7e7ee8", "#b6b6ef", "#e4e4e4", "#f2c6c6", "#e99292", "#e26464", "#e23434"]
          },
          "legend": null
        }
      }
    },
    {
      "transform": [{"filter": "isValid(datum.open) && datum.open == datum.close"}],
      "mark": {"type": "tick", "orient": "horizontal", "size": 6, "thickness": 1.5},
      "encoding": {
        "x": {"field": "i", "type": "quantitative", "title": null},
        "y": {"field": "close", "type": "quantitative", "title": null},
        "color": {"field": "tone", "type": "nominal", "legend": null}
      }
    },
    {
      "mark": {"type": "line", "interpolate": "step", "color": "#d02828", "strokeWidth": 1.2},
      "encoding": {
        "x": {"field": "i", "type": "quantitative", "title": null},
        "y": {"field": "lvl", "type": "quantitative", "title": null}
      }
    },
    {
      "data": {"values": [{"p": 2877.5}, {"p": 2875.75}, {"p": 2870.5}, {"p": 2866.86}, {"p": 2863.5}, {"p": 2860.14}, {"p": 2856.5}, {"p": 2849.5}]},
      "layer": [
        {
          "mark": {"type": "point", "shape": "M-1,0L-0.76,-0.3L1,-0.3L1,0.3L-0.76,0.3Z", "filled": true, "size": 1764, "color": "#bcbcbc", "opacity": 1, "strokeWidth": 0},
          "encoding": {
            "x": {"datum": 173.11, "type": "quantitative"},
            "y": {"field": "p", "type": "quantitative", "title": null}
          }
        },
        {
          "mark": {"type": "text", "align": "center", "baseline": "middle", "fontSize": 10, "color": "#111111", "font": "Liberation Sans"},
          "encoding": {
            "x": {"datum": 173.3, "type": "quantitative"},
            "y": {"field": "p", "type": "quantitative", "title": null},
            "text": {"field": "p", "type": "quantitative", "format": ".2f"}
          }
        }
      ]
    },
    {
      "data": {"values": [{"note": "Using Binary"}]},
      "mark": {"type": "text", "align": "left", "baseline": "alphabetic", "fontSize": 9.5, "color": "#e0e0e0", "font": "Liberation Sans"},
      "encoding": {
        "x": {"datum": -0.78, "type": "quantitative"},
        "y": {"datum": 2848.25, "type": "quantitative"},
        "text": {"field": "note"}
      }
    },
    {
      "data": {"values": [{"note": "© 2019 NinjaTrader, LLC"}]},
      "mark": {"type": "text", "align": "left", "baseline": "alphabetic", "fontSize": 11.3, "color": "#e0e0e0", "font": "Liberation Sans"},
      "encoding": {
        "x": {"datum": -0.78, "type": "quantitative"},
        "y": {"datum": 2847.86, "type": "quantitative"},
        "text": {"field": "note"}
      }
    },
    {
      "data": {"values": [{"icon": "scroll to end"}]},
      "mark": {"type": "point", "shape": "M-1.05,-1L0.53,0L-1.05,1Z M0.74,-1H1.05V1H0.74Z", "filled": true, "size": 361, "color": "#d4d4d4", "opacity": 1, "strokeWidth": 0},
      "encoding": {
        "x": {"datum": 168.44, "type": "quantitative"},
        "y": {"datum": 2878.62, "type": "quantitative"}
      }
    }
  ]
}
